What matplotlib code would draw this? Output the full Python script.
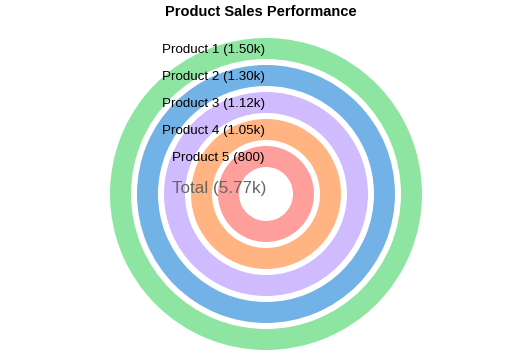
import matplotlib.pyplot as plt

products = ["Product 1", "Product 2", "Product 3", "Product 4", "Product 5"]
sales = [1500, 1300, 1120, 1050, 800]
colors = ["#8de5a1", "#72b2e6", "#d0bbff", "#ffb482", "#ff9f9b"]

plt.rcParams['font.family'] = ['Liberation Sans', 'DejaVu Sans']


def fmt(v):
    if v >= 1000:
        return f"{v / 1000:.2f}k"
    return f"{v}"


fig = plt.figure(figsize=(5.32, 3.55), dpi=100)
ax = fig.add_axes([0, 0, 1, 1])

# work in pixel units so the rings land where the reference has them
cx, cy = 266, 161
outer = 156
ring_w = 21
step = 27

for i, (name, val, col) in enumerate(zip(products, sales, colors)):
    r = outer - i * step
    ax.pie([val], radius=r, center=(cx, cy), colors=[col],
           wedgeprops=dict(width=ring_w, linewidth=0), startangle=90)
    ax.text(cx - 1, cy + r - ring_w / 2 - 1.5, f"{name} ({fmt(val)})",
            ha='right', va='center', fontsize=9.6, color='black')

total = sum(sales)
ax.text(cx, cy + 6, f"Total ({fmt(total)})", ha='right', va='center',
        fontsize=12.3, color='#666666')

ax.set_xlim(0, 532)
ax.set_ylim(0, 355)
ax.set_aspect('equal')
ax.axis('off')

fig.text(0.49, 1 - 12.5 / 355, "Product Sales Performance", ha='center', va='center',
         fontsize=10.5, fontweight='bold')

fig.savefig("out.png", dpi=100)
